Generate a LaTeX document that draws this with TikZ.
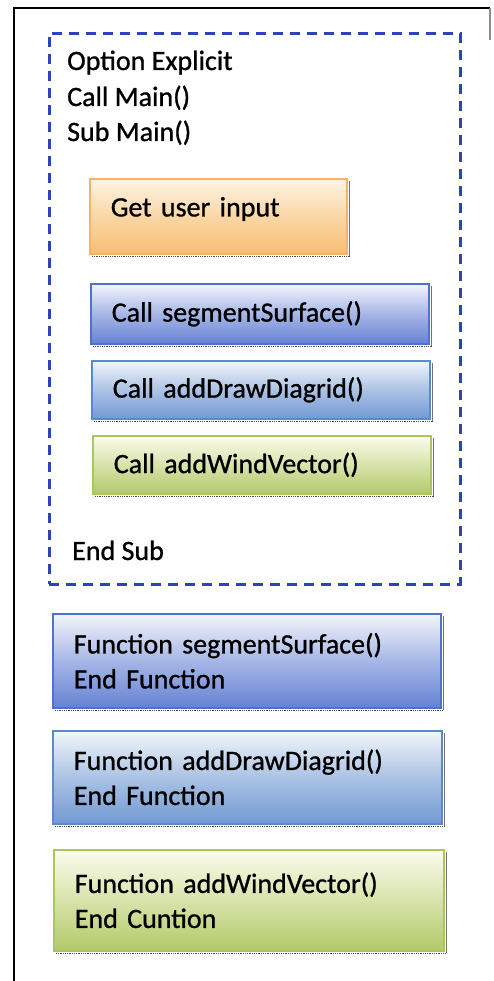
\documentclass[tikz,border=0pt]{standalone}
\usepackage{fontspec}
\setmainfont{Carlito}[FakeBold=0.9]
\definecolor{dashblue}{HTML}{2B45B8}
\definecolor{orbord}{HTML}{F5B36A}
\definecolor{ortop}{HTML}{FEF4E4}
\definecolor{orbot}{HTML}{F7BE72}
\definecolor{bAbord}{HTML}{4F72CF}
\definecolor{bAtop}{HTML}{F4F6FC}
\definecolor{bAbot}{HTML}{6682D4}
\definecolor{bBbord}{HTML}{5A8ACB}
\definecolor{bBtop}{HTML}{F2F6FB}
\definecolor{bBbot}{HTML}{7199D2}
\definecolor{gbord}{HTML}{A9C75E}
\definecolor{gtop}{HTML}{FCFCEC}
\definecolor{gbot}{HTML}{B2CA68}
\begin{document}
\begin{tikzpicture}[x=1pt,y=-1pt,
  txt/.style={font=\fontsize{28}{35}\selectfont, inner sep=0pt, anchor=base west},
  codebox/.style={font=\fontsize{28}{35}\selectfont, anchor=north west, inner ysep=0pt, inner xsep=21pt, align=left, line width=1.6pt},
  orangebox/.style={codebox, draw=orbord, top color=ortop, bottom color=orbot, middle color=ortop!45!orbot},
  blueAbox/.style={codebox, draw=bAbord, top color=bAtop, bottom color=bAbot, middle color=bAtop!45!bAbot},
  blueBbox/.style={codebox, draw=bBbord, top color=bBtop, bottom color=bBbot, middle color=bBtop!45!bBbot},
  greenbox/.style={codebox, draw=gbord, top color=gtop, bottom color=gbot, middle color=gtop!50!gbot},
  shadowline/.style={draw=black!70, line width=1.6pt, dash pattern=on 1pt off 0.8pt},
]
\useasboundingbox (0,0) rectangle (493,981);
\fill[white] (0,0) rectangle (493,981);
% outer frame
\coordinate (fbl) at (14,981);
\coordinate (ftl) at (14,8);
\coordinate (ftr) at (490,8);
\coordinate (frr) at (490,40);
\draw[line width=2.6pt] (fbl) -- (ftl) -- (ftr);
\draw[line width=1.2pt, black!45] (ftr) -- (frr);
% dashed main box
\node[draw=dashblue, line width=2.6pt, dash pattern=on 10pt off 7pt, anchor=north west, minimum width=411pt, minimum height=551pt, inner sep=0pt] (mainbox) at (48,32) {};
% header text
\node[txt] (opt) at (67,70) {Option Explicit};
\node[txt] (callmain) at (67,106) {Call Main()};
\node[txt] (submain) at (67,141) {Sub Main()};
\node[txt] (endsub) at (72,560) {End Sub};
% inner boxes
\node[orangebox, minimum width=257pt, minimum height=75pt, text width=215pt, text depth=19pt] (gui) at (89,178) {Get user input};
\node[blueAbox, minimum width=338pt, minimum height=60pt, text width=296pt] (cseg) at (90,283) {Call segmentSurface()};
\node[blueBbox, minimum width=338pt, minimum height=58pt, text width=296pt] (cdraw) at (91,360) {Call addDrawDiagrid()};
\node[greenbox, minimum width=338pt, minimum height=58pt, text width=296pt] (cwind) at (92,435) {Call addWindVector()};
% function boxes
\node[blueAbox, minimum width=388pt, minimum height=94pt, text width=346pt] (fseg) at (52,613) {Function segmentSurface()\\End Function};
\node[blueBbox, minimum width=389pt, minimum height=93pt, text width=347pt] (fdraw) at (52,730) {Function addDrawDiagrid()\\End Function};
\node[greenbox, minimum width=390pt, minimum height=101pt, text width=348pt] (fwind) at (53,849) {Function addWindVector()\\End Cuntion};
% shadows
\foreach \n in {gui,cseg,cdraw,cwind,fseg,fdraw,fwind}{
  \draw[shadowline] ([xshift=3pt,yshift=-2pt]\n.south west) -- ([xshift=2pt,yshift=-2pt]\n.south east);
  \draw[black!55, line width=1pt] ([xshift=1.5pt,yshift=-3pt]\n.north east) -- ([xshift=1.5pt,yshift=-1pt]\n.south east);
}
\end{tikzpicture}
\end{document}
